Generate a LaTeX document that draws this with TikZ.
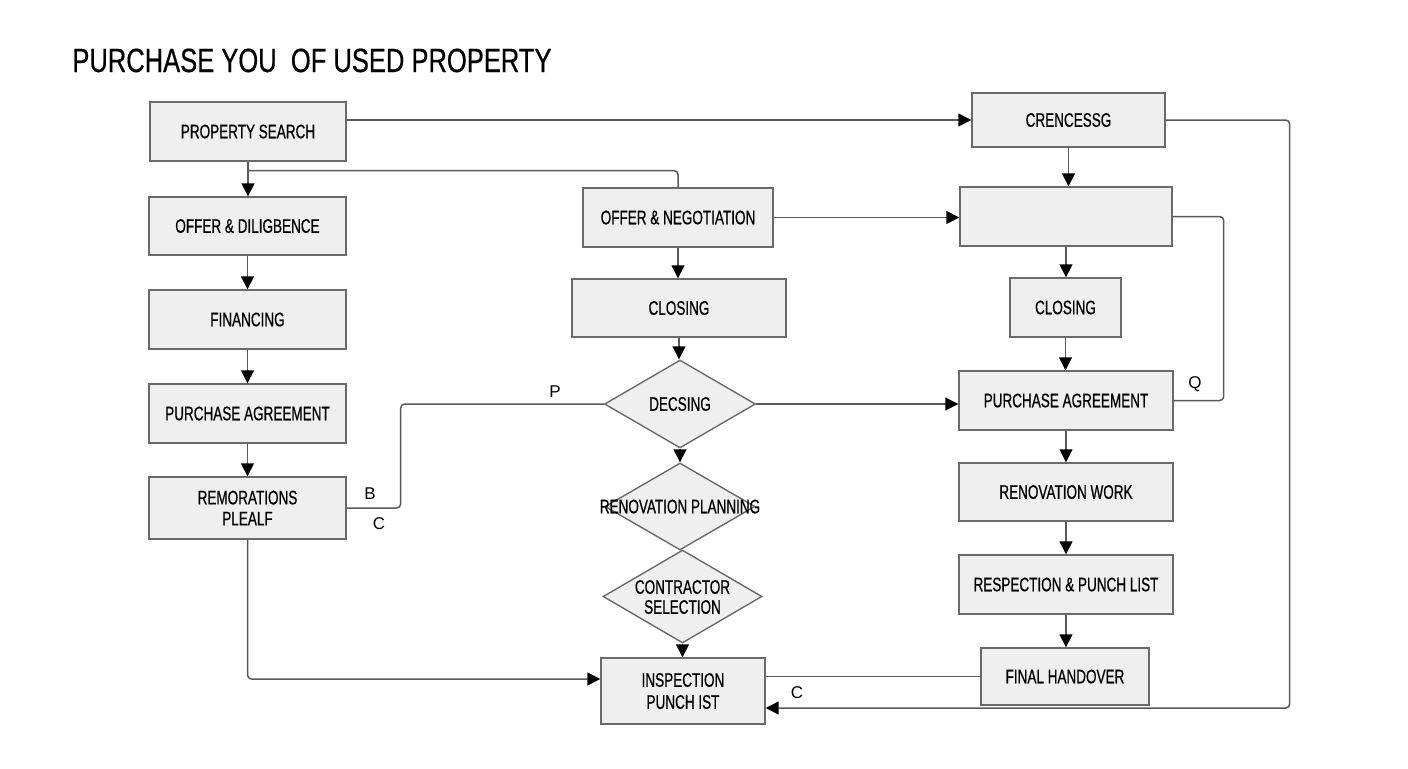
\documentclass[tikz,border=0pt]{standalone}
\usepackage{fontspec}
\setmainfont{Liberation Sans}
\newfontfamily\boxfont{Liberation Sans}[FakeStretch=0.69,FakeBold=0.6]
\newfontfamily\titlefont{Liberation Sans}[FakeStretch=0.76,FakeBold=0.5]
\usetikzlibrary{arrows.meta,shapes.geometric}
\definecolor{boxfill}{HTML}{EFEFEF}
\definecolor{boxline}{HTML}{6A6A6A}
\definecolor{connc}{HTML}{5A5A5A}
\begin{document}
\begin{tikzpicture}[x=0.5pt,y=-0.5pt,
  box/.style={draw=boxline, fill=boxfill, line width=0.7pt, inner sep=0pt, align=center,
    font=\boxfont\fontsize{9.8}{10.5}\selectfont},
  dia/.style={diamond, draw=boxline, fill=boxfill, line width=0.7pt, inner sep=0pt},
  dtext/.style={align=center, font=\boxfont\fontsize{9.8}{10}\selectfont},
  conn/.style={draw=connc, line width=0.75pt, rounded corners=2pt},
  arr/.style={conn, -{Triangle[width=6.5pt,length=6.5pt,color=black]}},
  lbl/.style={font=\fontsize{8.5}{10}\selectfont, inner sep=0pt}
]
\useasboundingbox[fill=white] (0,0) rectangle (1408,768);

\node[anchor=base west, inner sep=0pt, font=\titlefont\fontsize{16.8}{18}\selectfont] (title) at (72,72) {PURCHASE YOU\ \ OF USED PROPERTY};

% left column
\node[box, minimum width=98pt, minimum height=29.5pt] (ps) at (248,131.5) {PROPERTY SEARCH};
\node[box, minimum width=98.5pt, minimum height=29pt] (od) at (247.5,226) {OFFER \& DILIGBENCE};
\node[box, minimum width=98.5pt, minimum height=29.5pt] (fin) at (247.5,319.5) {FINANCING};
\node[box, minimum width=98.5pt, minimum height=29.5pt] (paL) at (247.5,413.5) {PURCHASE AGREEMENT};
\node[box, minimum width=98.5pt, minimum height=31pt] (rem) at (247.5,508) {REMORATIONS\\PLEALF};

% middle column
\node[box, minimum width=95pt, minimum height=29.5pt] (on) at (678,217.5) {OFFER \& NEGOTIATION};
\node[box, minimum width=107pt, minimum height=29pt] (clM) at (679,308) {CLOSING};
\node[dia, minimum width=75.5pt, minimum height=44pt, label={[dtext]center:DECSING}] (dec) at (680,404) {};
\node[dia, minimum width=75pt, minimum height=43.5pt] (rp) at (680,506.5) {};
\node[dia, minimum width=79.5pt, minimum height=46.5pt] (cs) at (682.5,596.5) {};
\node[dtext] (rpt) at (680,506.5) {RENOVATION PLANNING};
\node[dtext] (cst) at (682.5,597) {CONTRACTOR\\SELECTION};
\node[box, minimum width=82pt, minimum height=33pt, font=\boxfont\fontsize{9.8}{11}\selectfont] (insp) at (683,691) {INSPECTION\\PUNCH IST};

% right column
\node[box, minimum width=96.5pt, minimum height=27pt] (cr) at (1068.5,120) {CRENCESSG};
\node[box, minimum width=106pt, minimum height=29.5pt] (blank) at (1066,216.5) {};
\node[box, minimum width=55.5pt, minimum height=29.5pt] (clR) at (1065.5,307.5) {CLOSING};
\node[box, minimum width=107pt, minimum height=29.5pt] (paR) at (1066,400.5) {PURCHASE AGREEMENT};
\node[box, minimum width=107pt, minimum height=29pt] (rw) at (1066,492) {RENOVATION WORK};
\node[box, minimum width=107pt, minimum height=29.5pt] (rpl) at (1066,584.5) {RESPECTION \& PUNCH LIST};
\node[box, minimum width=84pt, minimum height=28.5pt] (fh) at (1065,676.5) {FINAL HANDOVER};

% connectors
\draw[arr] (ps.east |- cr.west) -- (cr.west);
\draw[arr] (ps.south) -- (ps.south |- od.north);
\draw[conn] ([yshift=-4.5pt]ps.south) -| (on.north);
\draw[arr] (od.south) -- (fin.north);
\draw[arr] (fin.south) -- (paL.north);
\draw[arr] (paL.south) -- (rem.north);
\draw[conn] (rem.east) -- ++(54,0) |- (dec.west);
\draw[arr] (rem.south) |- ([yshift=6pt]insp.west);
\draw[arr] (on.east) -- (on.east -| blank.west);
\draw[arr] (on.south) -- (on.south |- clM.north);
\draw[arr] (clM.south) -- (clM.south |- dec.north);
\draw[arr] (dec.south) -- (dec.south |- rp.north);
\draw[arr] (dec.east) -- (dec.east -| paR.west);
\draw[arr] (cs.south) -- (cs.south |- insp.north);
\draw[arr] (cr.south) -- (cr.south |- blank.north);
\draw[arr] (cr.east) -- ++(124,0) |- ([yshift=-8.5pt]insp.east);
\draw[conn] (blank.east) -- ++(51,0) |- (paR.east);
\draw[arr] (blank.south) -- (blank.south |- clR.north);
\draw[arr] (clR.south) -- (clR.south |- paR.north);
\draw[arr] (paR.south) -- (rw.north);
\draw[arr] (rw.south) -- (rpl.north);
\draw[arr] (rpl.south) -- (rpl.south |- fh.north);
\draw[conn] (fh.west) -- (fh.west -| insp.east);

% labels
\node[lbl] (lP) at (555,392) {P};
\node[lbl] (lB) at (370,494) {B};
\node[lbl] (lC1) at (379,524) {C};
\node[lbl] (lQ) at (1195,384) {Q};
\node[lbl] (lC2) at (797,693) {C};
\end{tikzpicture}
\end{document}
